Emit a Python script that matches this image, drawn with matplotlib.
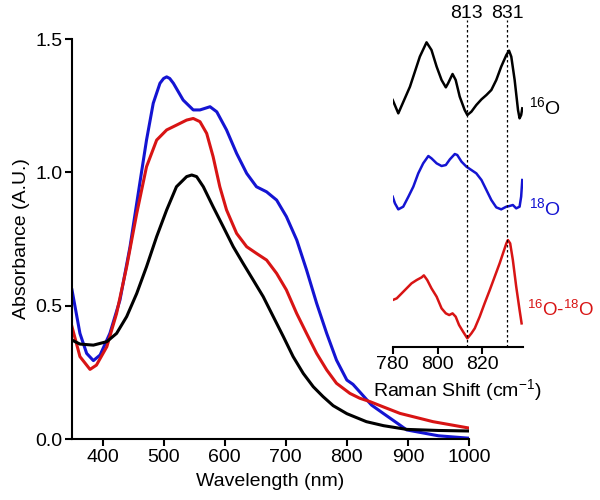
import matplotlib
matplotlib.use('Agg')
import matplotlib.pyplot as plt

plt.rcParams['font.family'] = ['Liberation Sans', 'DejaVu Sans']
plt.rcParams['mathtext.fontset'] = 'custom'
plt.rcParams['mathtext.rm'] = 'Liberation Sans'
plt.rcParams['mathtext.it'] = 'Liberation Sans:italic'

BLUE = '#1414d2'
RED = '#d81414'

# absorbance spectra
wl_blue = [350, 363, 374, 385, 396, 412, 428.5, 445, 461, 472, 483, 494, 500, 505, 510, 516,
           532, 548.5, 559.5, 576, 587, 603, 619.5, 636, 652, 668.5, 685, 701, 718, 734,
           750.5, 767, 783, 800, 810, 840.5, 859, 887, 898, 950, 1000]
abs_blue = [0.559, 0.396, 0.321, 0.294, 0.315, 0.396, 0.521, 0.721, 0.959, 1.121, 1.259,
            1.334, 1.352, 1.358, 1.352, 1.334, 1.271, 1.234, 1.234, 1.246, 1.227, 1.159,
            1.071, 0.996, 0.946, 0.927, 0.896, 0.834, 0.746, 0.634, 0.509, 0.396, 0.296,
            0.221, 0.205, 0.127, 0.097, 0.052, 0.034, 0.012, 0.003]

wl_red = [350, 363, 379.5, 390, 407, 423, 439.5, 456, 472, 488.6, 505, 521, 537.7, 548.5,
          559.5, 570.5, 581, 592, 603, 619.5, 636, 652, 668.6, 685, 701, 717.8, 734, 750.5,
          767, 783, 805, 821, 838, 859, 887, 941, 1000]
abs_red = [0.421, 0.309, 0.261, 0.277, 0.346, 0.471, 0.646, 0.846, 1.021, 1.121, 1.159,
           1.177, 1.196, 1.202, 1.19, 1.146, 1.059, 0.946, 0.859, 0.771, 0.721, 0.696,
           0.671, 0.621, 0.559, 0.471, 0.396, 0.321, 0.259, 0.209, 0.171, 0.153, 0.14,
           0.121, 0.096, 0.065, 0.041]

wl_black = [350, 363, 385, 407, 423, 439.5, 456, 472, 488.6, 505, 521, 537.7, 546, 554,
            565, 581, 597.6, 614, 630, 646.7, 663, 679.5, 696, 712, 728.6, 745, 761, 777.6,
            800, 832, 860, 898, 950, 1000]
abs_black = [0.371, 0.356, 0.352, 0.365, 0.396, 0.459, 0.546, 0.646, 0.759, 0.859, 0.946,
             0.984, 0.99, 0.984, 0.946, 0.871, 0.796, 0.721, 0.659, 0.596, 0.534, 0.459,
             0.384, 0.309, 0.246, 0.196, 0.159, 0.125, 0.095, 0.065, 0.05, 0.036, 0.032,
             0.03]

# raman inset, offset traces
rs_16 = [780.0, 782.5, 787.7, 792.1, 795.1, 797.3, 799.6, 801.8, 803.7, 804.7, 806.7, 808.1,
         809.9, 812.1, 813.3, 815.1, 817.3, 819.6, 821.8, 824.0, 826.2, 828.4, 830.7, 831.9,
         832.9, 834.4, 835.9, 836.6, 837.3, 837.8]
int_16 = [7.40, 7.00, 7.80, 8.70, 9.13, 8.90, 8.40, 8.00, 7.78, 7.90, 8.18, 8.00, 7.50, 7.10,
          6.95, 7.05, 7.25, 7.42, 7.55, 7.70, 8.00, 8.40, 8.75, 8.88, 8.70, 8.00, 7.10, 6.85,
          6.95, 7.15]

rs_18 = [780.0, 781.0, 782.5, 784.7, 787.0, 789.2, 791.4, 793.6, 795.9, 797.3, 799.6, 801.8,
         803.7, 805.5, 807.7, 808.8, 810.7, 812.9, 815.1, 817.3, 819.6, 821.8, 824.0, 826.2,
         828.4, 830.7, 832.1, 833.6, 835.1, 836.6, 837.3, 837.8]
int_18 = [4.50, 4.30, 4.12, 4.20, 4.50, 4.80, 5.20, 5.50, 5.72, 5.65, 5.50, 5.42, 5.45, 5.62,
          5.78, 5.75, 5.55, 5.40, 5.30, 5.20, 5.00, 4.70, 4.40, 4.18, 4.12, 4.20, 4.22, 4.25,
          4.15, 4.20, 4.50, 5.00]

rs_diff = [780.0, 781.8, 784.0, 786.2, 788.4, 790.7, 792.9, 793.9, 795.4, 797.3, 799.6, 801.8,
           803.7, 805.2, 806.7, 808.1, 809.6, 811.4, 813.3, 815.1, 816.6, 818.8, 821.0, 823.3,
           825.5, 827.7, 829.2, 830.7, 831.4, 832.4, 833.6, 835.1, 836.6, 837.5]
int_diff = [1.40, 1.45, 1.60, 1.75, 1.90, 2.00, 2.08, 2.14, 2.00, 1.75, 1.50, 1.15, 1.00, 0.95,
            1.00, 0.90, 0.65, 0.45, 0.25, 0.40, 0.55, 0.90, 1.30, 1.70, 2.10, 2.50, 2.80, 3.10,
            3.20, 3.10, 2.60, 1.80, 1.10, 0.70]

marked = [813, 831]

fig = plt.figure(figsize=(6, 5), dpi=100)

ax = fig.add_axes([0.12, 0.122, 0.6617, 0.8])
ax.plot(wl_blue, abs_blue, color=BLUE, lw=2.2)
ax.plot(wl_red, abs_red, color=RED, lw=2.2)
ax.plot(wl_black, abs_black, color='black', lw=2.2)
ax.set_xlim(350, 1000)
ax.set_ylim(0, 1.5)
ax.set_xticks([400, 500, 600, 700, 800, 900, 1000])
ax.set_yticks([0.0, 0.5, 1.0, 1.5])
ax.set_yticklabels(['0.0', '0.5', '1.0', '1.5'])
for s in ['top', 'right']:
    ax.spines[s].set_visible(False)
for s in ['left', 'bottom']:
    ax.spines[s].set_linewidth(1.5)
ax.tick_params(width=1.5, length=5, labelsize=14, pad=2)
ax.set_xlabel('Wavelength (nm)', fontsize=14, labelpad=5)
ax.set_ylabel('Absorbance (A.U.)', fontsize=14, labelpad=4)

# inset
ins = fig.add_axes([0.6545, 0.3066, 0.2167, 0.6534])
ins.patch.set_alpha(0)
ins.plot(rs_16, int_16, color='black', lw=1.8)
ins.plot(rs_18, int_18, color=BLUE, lw=1.8)
ins.plot(rs_diff, int_diff, color=RED, lw=1.8)
for m in marked:
    ins.axvline(m, color='black', lw=0.9, ls=(0, (2, 2)))
    ins.text(m, 10.0, str(m), ha='center', va='center', fontsize=14)
ins.set_xlim(780, 838)
ins.set_ylim(0, 9.8)
ins.set_xticks([780, 800, 820])
ins.set_yticks([])
for s in ['top', 'right', 'left']:
    ins.spines[s].set_visible(False)
ins.spines['bottom'].set_linewidth(1.5)
ins.tick_params(width=1.5, length=5, labelsize=14, pad=2)
ins.set_xlabel('Raman Shift (cm$^{-1}$)', fontsize=14, labelpad=3)
ins.text(841, 7.2, '$^{16}$O', color='black', fontsize=14, ha='left', va='center')
ins.text(841, 4.15, '$^{18}$O', color=BLUE, fontsize=14, ha='left', va='center')
ins.text(840, 1.1, '$^{16}$O-$^{18}$O', color=RED, fontsize=13.5, ha='left', va='center')

fig.savefig('out.png', dpi=100)
